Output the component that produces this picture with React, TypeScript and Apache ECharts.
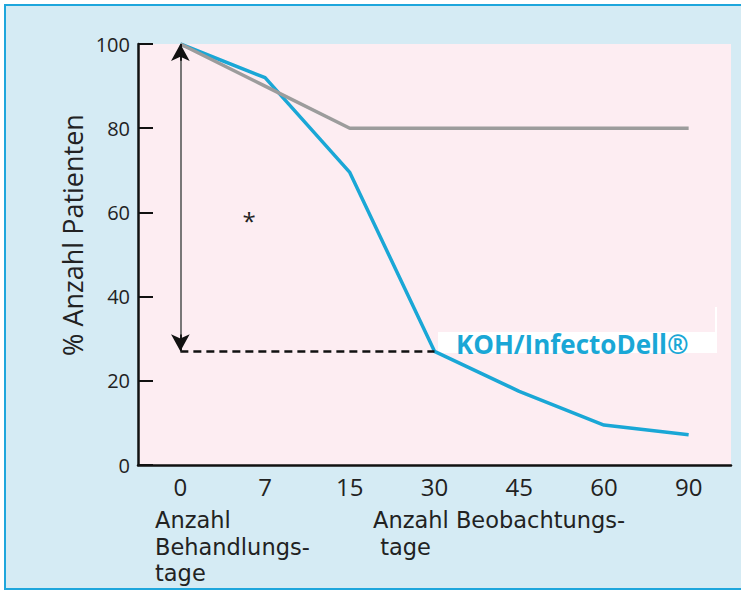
import React, { useEffect, useRef } from "react";
import * as echarts from "echarts";

const categories = ["0", "7", "15", "30", "45", "60", "90"];
const infectoDell = [100, 92, 69.5, 27, 17.5, 9.5, 7.2];
const comparison = [100, 90, 80, 80, 80, 80, 80];
const yTicks = { min: 0, max: 100, interval: 20 };
const arrowTop = 100;
const arrowBottom = 27;
const treatmentLines = ["Anzahl", "Behandlungs-", "tage"];
const observationLines = ["Anzahl Beobachtungs-", " tage"];

const FONT = "'Open Sans', sans-serif";
const NOTE_FONT = "'DejaVu Sans', sans-serif";

export default function App() {
  const ref = useRef<HTMLDivElement>(null);
  useEffect(() => {
    document.body.style.margin = "0";
    const chart = echarts.init(ref.current!, null, { renderer: "svg" });
    const black = "#111";
    const lineText = (lines: string[], x: number) =>
      lines.map((t, i) => ({
        type: "text",
        z: 3,
        x,
        y: 520 + i * 26.5,
        style: { text: t, fill: "#222", font: `22.5px ${NOTE_FONT}`, verticalAlign: "middle" },
      }));
    chart.setOption({
      animation: false,
      backgroundColor: "#ffffff",
      grid: {
        left: 138,
        right: 10,
        top: 44,
        bottom: 125,
        show: true,
        backgroundColor: "#fdedf2",
        borderWidth: 0,
      },
      xAxis: {
        type: "category",
        data: categories,
        boundaryGap: true,
        axisLine: { lineStyle: { color: black, width: 2.5 } },
        axisTick: { inside: true, alignWithLabel: true, length: 9, lineStyle: { color: black, width: 2 } },
        axisLabel: { fontSize: 24, color: "#222", fontFamily: FONT, margin: 9 },
        splitLine: { show: false },
      },
      yAxis: {
        type: "value",
        min: yTicks.min,
        max: yTicks.max,
        interval: yTicks.interval,
        axisLine: { show: true, lineStyle: { color: black, width: 2.5 } },
        axisTick: { show: true, inside: true, length: 15, lineStyle: { color: black, width: 2 } },
        axisLabel: { fontSize: 20, color: "#222", fontFamily: FONT, margin: 8 },
        splitLine: { show: false },
      },
      graphic: [
        {
          type: "rect",
          z: -10,
          shape: { x: 5, y: 5, width: 745, height: 584 },
          style: { fill: "#d5ebf4", stroke: "#1ea6dc", lineWidth: 2 },
        },
        {
          type: "rect",
          z: 1,
          shape: { x: 438, y: 332, width: 279, height: 21 },
          style: { fill: "#ffffff" },
        },
        {
          type: "rect",
          z: 1,
          shape: { x: 715, y: 307, width: 2, height: 26 },
          style: { fill: "#ffffff" },
        },
        {
          type: "text",
          z: 5,
          x: 456,
          y: 344,
          style: {
            text: "KOH/InfectoDell®",
            fill: "#1aa7d6",
            font: `bold 26px ${FONT}`,
            verticalAlign: "middle",
          },
        },
        {
          type: "text",
          z: 3,
          x: 249,
          y: 220,
          style: { text: "*", fill: "#222", font: `24px ${FONT}`, align: "center", verticalAlign: "middle" },
        },
        {
          type: "text",
          z: 3,
          x: 72,
          y: 235,
          rotation: Math.PI / 2,
          style: {
            text: "% Anzahl Patienten",
            fill: "#222",
            font: `27px ${FONT}`,
            align: "center",
            verticalAlign: "middle",
          },
        },
        ...lineText(treatmentLines, 155),
        ...lineText(observationLines, 373),
      ],
      series: [
        {
          type: "line",
          data: infectoDell,
          symbol: "none",
          z: 3,
          lineStyle: { color: "#1aa7d6", width: 3.5 },
          markLine: {
            silent: true,
            symbol: ["none", "none"],
            label: { show: false },
            data: [
              [
                { coord: ["0", arrowBottom], lineStyle: { color: black, width: 2.5, type: [8, 5] } },
                { coord: ["30", arrowBottom] },
              ],
            ],
          },
        },
        {
          type: "line",
          data: comparison,
          symbol: "none",
          z: 4,
          lineStyle: { color: "#9c9c9c", width: 3.5 },
          markLine: {
            silent: true,
            symbol: ["none", "none"],
            symbolSize: [14, 17],
            label: { show: false },
            lineStyle: { color: "#6a6a6a", width: 1.8, type: "solid" },
            data: [
              [{ coord: ["0", arrowTop] }, { coord: ["0", arrowBottom] }],
              [
                { coord: ["0", arrowTop - 4], symbol: "none", lineStyle: { color: black, width: 1.8, type: "solid" } },
                { coord: ["0", arrowTop], symbol: "arrow", symbolSize: [14, 17] },
              ],
              [
                { coord: ["0", arrowBottom + 4], symbol: "none", lineStyle: { color: black, width: 1.8, type: "solid" } },
                { coord: ["0", arrowBottom], symbol: "arrow", symbolSize: [14, 17] },
              ],
            ],
          },
        },
      ],
    });
    return () => chart.dispose();
  }, []);
  return <div ref={ref} style={{ width: 741, height: 590 }} />;
}
